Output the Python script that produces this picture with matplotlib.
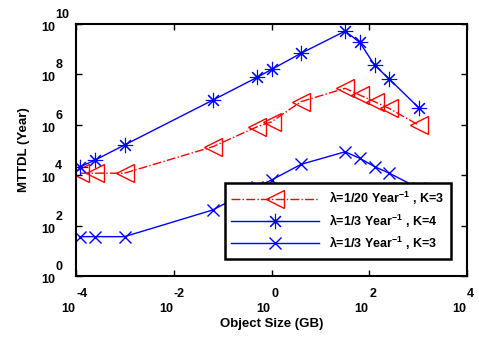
import matplotlib
matplotlib.use('Agg')
import matplotlib.pyplot as plt
import numpy as np

plt.rcParams['font.family'] = ['Liberation Sans', 'DejaVu Sans']
plt.rcParams['font.weight'] = 'bold'
plt.rcParams['mathtext.fontset'] = 'custom'
plt.rcParams['mathtext.rm'] = 'Liberation Sans:bold'
plt.rcParams['mathtext.bf'] = 'Liberation Sans:bold'
plt.rcParams['mathtext.it'] = 'Liberation Sans:bold'

# object sizes in GB (powers of two)
size_exp = [-13, -12, -10, -4, -1, 0, 2, 5, 6, 7, 8, 10]
sizes = [2.0 ** e for e in size_exp]

# log10 of MTTDL (years)
mttdl_r20_k3 = [4.08, 4.08, 4.08, 5.13, 5.92, 6.12, 6.92, 7.45, 7.18, 6.92, 6.65, 5.99]
mttdl_r3_k4 = [4.34, 4.60, 5.20, 6.98, 7.88, 8.20, 8.84, 9.72, 9.27, 8.37, 7.82, 6.68]
mttdl_r3_k3 = [1.56, 1.56, 1.56, 2.62, 3.54, 3.81, 4.43, 4.93, 4.67, 4.34, 4.08, 3.48]

labels = [r'$\lambda$=1/20 Year$^{-1}$ , K=3',
          r'$\lambda$=1/3 Year$^{-1}$ , K=4',
          r'$\lambda$=1/3 Year$^{-1}$ , K=3']

x_tick_exp = [-4, -2, 0, 2, 4]
y_tick_exp = [0, 2, 4, 6, 8, 10]

fig = plt.figure(figsize=(4.79, 3.39), dpi=100, facecolor='white')
ax = fig.add_axes([0.159, 0.186, 0.816, 0.743])

ax.plot(sizes, 10 ** np.array(mttdl_r20_k3), color='red', linestyle='-.', lw=1,
        marker='<', markersize=13, markerfacecolor='none', markeredgecolor='red',
        label=labels[0])
ax.plot(sizes, 10 ** np.array(mttdl_r3_k4), color='blue', linestyle='-', lw=1,
        marker=(8, 2, 0), markersize=11, markeredgecolor='blue', markeredgewidth=0.8,
        label=labels[1])
ax.plot(sizes, 10 ** np.array(mttdl_r3_k3), color='blue', linestyle='-', lw=1,
        marker='x', markersize=8, markeredgecolor='blue',
        label=labels[2])

ax.set_xscale('log')
ax.set_yscale('log')
ax.set_xlim(1e-4, 1e4)
ax.set_ylim(1e0, 1e10)

ax.set_xticks([10.0 ** e for e in x_tick_exp])
ax.set_yticks([10.0 ** e for e in y_tick_exp])
ax.set_xticklabels([])
ax.set_yticklabels([])
ax.minorticks_off()
ax.tick_params(direction='in', top=True, right=True, length=4, width=1)
for s in ax.spines.values():
    s.set_linewidth(1.5)

# matlab style tick labels: "10" with a raised exponent of similar size
fs = 9
for e in x_tick_exp:
    ax.annotate('10', xy=(10.0 ** e, 0), xycoords=('data', 'axes fraction'),
                xytext=(-1, -36), textcoords='offset pixels',
                ha='right', va='baseline', fontsize=fs, fontweight='bold')
    ax.annotate('%d' % e, xy=(10.0 ** e, 0), xycoords=('data', 'axes fraction'),
                xytext=(0, -21), textcoords='offset pixels',
                ha='left', va='baseline', fontsize=fs, fontweight='bold')
for e in y_tick_exp:
    ax.annotate('10', xy=(0, 10.0 ** e), xycoords=('axes fraction', 'data'),
                xytext=(-21, -7), textcoords='offset pixels',
                ha='right', va='baseline', fontsize=fs, fontweight='bold')
    ax.annotate('%d' % e, xy=(0, 10.0 ** e), xycoords=('axes fraction', 'data'),
                xytext=(-21, 6), textcoords='offset pixels',
                ha='left', va='baseline', fontsize=fs, fontweight='bold')

ax.set_xlabel('Object Size (GB)', fontsize=9.5, fontweight='bold', labelpad=27)
ax.set_ylabel('MTTDL (Year)', fontsize=9.5, fontweight='bold', labelpad=30)

leg = ax.legend(loc='lower right', fontsize=9, fancybox=False, framealpha=1,
                edgecolor='black', handlelength=7, borderpad=0.55,
                labelspacing=0.4, bbox_to_anchor=(0.974, 0.044))
leg.get_frame().set_linewidth(1.8)

fig.savefig('out.png', dpi=100)
